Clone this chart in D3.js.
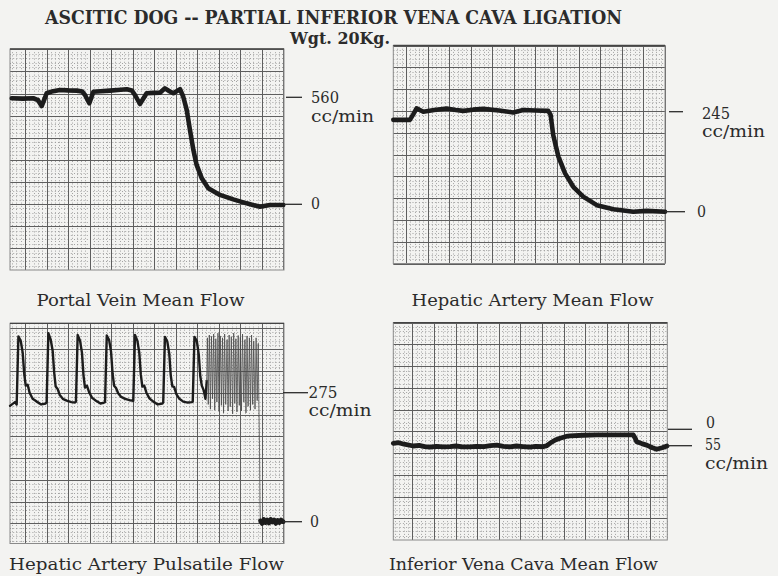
<!DOCTYPE html>
<html><head><meta charset="utf-8">
<script src="https://cdn.jsdelivr.net/npm/d3@7"></script>
<style>
html,body{margin:0;padding:0;background:#f3f3f1;}
svg{display:block;}
text{font-family:"DejaVu Serif",serif;fill:#2b2b2b;}
</style></head><body>
<svg id="c" width="778" height="576"></svg>
<script>
// ---------------- DATA ----------------
const titleText = "ASCITIC DOG -- PARTIAL INFERIOR VENA CAVA LIGATION";
const subtitleText = "Wgt. 20Kg.";
const panelLabels = ["Portal Vein Mean Flow", "Hepatic Artery Mean Flow",
                     "Hepatic Artery Pulsatile Flow", "Inferior Vena Cava Mean Flow"];
const unitLabel = "cc/min";
// calibration marks per panel: [value, label]
const refMarksPortal = [[560, "560"], [0, "0"]];
const refMarksHepatic = [[245, "245"], [0, "0"]];
const refMarksPulse = [[275, "275"], [0, "0"]];
const refMarksIVC = [[0, "0"], [55, "55"]];

// series: [time (chart divisions), flow (cc/min)]
const portalSeries = [[0.08,555],[0.6,553],[1.08,555],[1.30,545],[1.47,514],[1.58,545],[1.70,581],[2.0,592],[2.32,598],[2.7,596],
  [3.10,595],[3.35,590],[3.48,572],[3.68,529],[3.87,589],[4.2,592],[4.64,595],[5.0,598],[5.42,602],[5.65,596],
  [5.80,572],[6.03,525],[6.34,581],[6.65,583],[6.96,584],[7.19,607],[7.40,592],[7.58,581],[7.89,602],[8.04,563],
  [8.20,494],[8.35,389],[8.51,284],[8.66,206],[8.90,136],[9.20,84],[9.74,49],[10.36,26],[10.98,5],[11.60,-13],
  [12.06,-4],[12.68,-4]];

const hepaticSeries = [[0,225],[0.77,225],[0.93,239],[1.08,253],[1.39,245],[1.9,249],[2.47,253],[2.9,249],[3.24,247],[3.7,250],
  [4.17,252],[4.9,248],[5.56,243],[6.02,249],[6.6,248],[7.18,247],[7.29,237],[7.41,188],[7.65,135],[7.96,94],
  [8.34,61],[8.80,37],[9.43,16],[10.20,6],[11.12,0],[11.74,2],[12.59,0]];

const pulseWave = [[0.0,247],[0.23,255],
  [0.31,250],[0.39,395],[0.50,385],[0.59,360],[0.66,315],[0.73,290],[0.82,292],[0.91,275],[1.05,262],[1.24,256],[1.45,250],[1.66,252],
  [1.70,255],[1.78,402],[1.89,388],[1.98,364],[2.05,318],[2.12,288],[2.21,283],[2.31,270],[2.45,262],[2.63,258],[2.85,255],[3.02,254],
  [3.06,256],[3.14,398],[3.25,386],[3.34,360],[3.41,312],[3.48,286],[3.57,290],[3.67,276],[3.81,264],[3.99,258],[4.20,252],[4.37,254],
  [4.41,255],[4.49,397],[4.60,387],[4.69,362],[4.76,316],[4.83,290],[4.92,285],[5.02,274],[5.16,266],[5.34,262],[5.55,259],[5.68,258],
  [5.72,258],[5.80,398],[5.91,386],[6.00,360],[6.07,314],[6.14,288],[6.23,290],[6.33,275],[6.47,263],[6.65,256],[6.86,250],[7.07,252],
  [7.11,254],[7.19,394],[7.30,384],[7.39,358],[7.46,312],[7.53,289],[7.62,287],[7.72,272],[7.86,262],[8.04,256],[8.25,254],[8.44,255],
  [8.48,256],[8.56,394],[8.67,385],[8.76,356],[8.83,310],[8.90,290],[8.99,280],[9.07,262],[9.13,300]];

const pulseBurst = [[9.13,300],[9.16,392],[9.20,250],[9.25,398],[9.30,240],[9.35,395],[9.40,262],[9.45,400],[9.50,238],[9.55,390],
  [9.60,255],[9.65,402],[9.70,235],[9.76,396],[9.81,248],[9.86,392],[9.91,232],[9.96,400],[10.01,250],[10.07,388],
  [10.12,236],[10.17,398],[10.22,245],[10.27,394],[10.33,230],[10.38,402],[10.43,252],[10.48,390],[10.53,234],[10.59,397],
  [10.64,248],[10.69,393],[10.74,236],[10.79,400],[10.85,255],[10.90,388],[10.95,232],[11.00,396],[11.05,246],[11.11,392],
  [11.16,238],[11.21,398],[11.26,250],[11.31,385],[11.37,240],[11.42,392],[11.47,258],[11.52,380],[11.55,250],
  [11.58,150],[11.60,40],[11.62,0]];

const pulseZero = [[11.62,2],[11.70,-4],[11.78,5],[11.86,-2],[11.94,4],[12.02,-3],[12.10,5],[12.18,-1],[12.26,4],[12.34,-4],
  [12.42,3],[12.50,-2],[12.58,4],[12.68,0]];

const ivcSeries = [[0,47],[0.25,45],[0.5,50],[0.93,56],[1.2,54],[1.45,58],[1.70,60],[2.0,57],[2.3,59],[2.63,58],
  [2.9,56],[3.2,59],[3.55,59],[3.85,57],[4.2,58],[4.5,55],[4.79,53],[5.1,57],[5.40,59],[5.7,56],
  [6.0,58],[6.33,60],[6.6,57],[6.94,58],[7.1,55],[7.25,47],[7.5,36],[7.72,30],[8.0,24],[8.18,22],
  [8.8,20],[9.42,19],[10.2,19],[10.8,19],[11.11,19],[11.2,30],[11.27,42],[11.5,48],[11.73,53],[12.0,62],
  [12.19,67],[12.45,62],[12.67,56]];

// ---------------- LAYOUT ----------------
const svg = d3.select("#c");
const ink = "#1c1c1c";

// unitAt: index of the calibration mark that carries the "cc/min" line; ud: line gap
const panels = [
  { box:[10,49,284,270],   gx:25,    dx:21.53, gy:49.3, dy:22.1,  tdx:21.55,
    yr:[204.3,97.3],  dom:[0,560], marks:refMarksPortal,
    tick:[[286,302],[284,302]], txt:[[311,103],[311,208.5]], unitAt:0, ud:19, tl:[28,9],
    label:[36.5,305.5,208] },
  { box:[393.3,45.5,665,263.5], gx:406, dx:21.58, gy:45.5, dy:21.8, tdx:21.58,
    yr:[211.7,111.7], dom:[0,245], marks:refMarksHepatic,
    tick:[[669,683],[665,685]], txt:[[702,118.5],[697,217]], unitAt:0, ud:18.8, tl:[28,9],
    label:[411.5,305.5,242] },
  { box:[10,323.3,284,543.5], gx:25, dx:21.53, gy:327.6, dy:21.75, tdx:21.55,
    yr:[521.7,392.7], dom:[0,275], marks:refMarksPulse,
    tick:[[283,308],[283,302]], txt:[[308.5,397.5],[310,527]], unitAt:0, ud:18.8, tl:[29,9],
    label:[9,570,275] },
  { box:[393.3,322.7,667.3,540], gx:412.3, dx:21.6, gy:322.7, dy:21.73, tdx:21.6,
    yr:[429.3,445.7], dom:[0,55], marks:refMarksIVC,
    tick:[[668,692],[668,692]], txt:[[706,428],[705,450]], unitAt:1, ud:18.8, tl:[9,16],
    label:[389,570,269] }
];

// ---------------- TITLE ----------------
svg.append("text").attr("x",45).attr("y",23.5).attr("font-size",18).attr("font-weight","bold")
  .attr("textLength",577).attr("lengthAdjust","spacingAndGlyphs").text(titleText);
svg.append("text").attr("x",290).attr("y",43.5).attr("font-size",16).attr("font-weight","bold")
  .attr("textLength",100).attr("lengthAdjust","spacingAndGlyphs").text(subtitleText);

// ---------------- PANELS ----------------
panels.forEach((p, i) => {
  const [x0,y0,x1,y1] = p.box;
  const g = svg.append("g");
  // paper grid scales (in grid divisions)
  const px = d3.scaleLinear().domain([0,1]).range([p.gx, p.gx + p.dx]);
  const py = d3.scaleLinear().domain([0,1]).range([p.gy, p.gy + p.dy]);
  const kx = d3.range(Math.ceil(px.invert(x0)*5), Math.floor(px.invert(x1)*5)+1);
  const ky = d3.range(Math.ceil(py.invert(y0)*5), Math.floor(py.invert(y1)*5)+1);

  // minor dotted lines
  g.selectAll(".mx").data(kx.filter(k => k % 5 !== 0)).join("line")
    .attr("x1", k => Math.round(px(k/5))+0.5).attr("x2", k => Math.round(px(k/5))+0.5)
    .attr("y1", y0).attr("y2", y1)
    .attr("stroke","#9a9a9a").attr("stroke-width",0.9).attr("stroke-dasharray","1,2.2");
  g.selectAll(".my").data(ky.filter(k => k % 5 !== 0)).join("line")
    .attr("y1", k => Math.round(py(k/5))+0.5).attr("y2", k => Math.round(py(k/5))+0.5)
    .attr("x1", x0).attr("x2", x1)
    .attr("stroke","#9a9a9a").attr("stroke-width",0.9).attr("stroke-dasharray","1,2.2");
  // major lines
  g.selectAll(".Mx").data(kx.filter(k => k % 5 === 0)).join("line")
    .attr("x1", k => Math.round(px(k/5))+0.5).attr("x2", k => Math.round(px(k/5))+0.5)
    .attr("y1", y0).attr("y2", y1)
    .attr("stroke","#5e5e5e").attr("stroke-width",1);
  g.selectAll(".My").data(ky.filter(k => k % 5 === 0)).join("line")
    .attr("y1", k => Math.round(py(k/5))+0.5).attr("y2", k => Math.round(py(k/5))+0.5)
    .attr("x1", x0).attr("x2", x1)
    .attr("stroke","#5e5e5e").attr("stroke-width",1);
  // border
  g.append("rect").attr("x",x0).attr("y",y0).attr("width",x1-x0).attr("height",y1-y0)
    .attr("fill","none").attr("stroke","#8a8a8a").attr("stroke-width",1);
  g.append("line").attr("x1",x0).attr("x2",x1).attr("y1",y0).attr("y2",y0)
    .attr("stroke","#444").attr("stroke-width",1.3);

  // data scales
  const xs = d3.scaleLinear().domain([0,(x1-x0)/p.tdx]).range([x0,x1]);
  const ys = d3.scaleLinear().domain(p.dom).range(p.yr);
  const line = d3.line().x(d => xs(d[0])).y(d => ys(d[1]));

  const draw = (data, w, col) => g.append("path").datum(data).attr("d", line)
      .attr("fill","none").attr("stroke",col || ink).attr("stroke-width",w)
      .attr("stroke-linejoin","round").attr("stroke-linecap","round");
  if (i === 0) draw(portalSeries, 4.6);
  if (i === 1) draw(hepaticSeries, 4.6);
  if (i === 2) { draw(pulseWave, 2.4); draw(pulseBurst, 0.8, "#4a4a4a"); draw(pulseZero, 4.5); }
  if (i === 3) draw(ivcSeries, 4.8);

  // calibration marks (value label; the unit line is a second tspan of the same text)
  p.marks.forEach((m, j) => {
    const yy = ys(m[0]);
    g.append("line").attr("x1",p.tick[j][0]).attr("x2",p.tick[j][1]).attr("y1",yy).attr("y2",yy)
      .attr("stroke","#2b2b2b").attr("stroke-width",1.3);
    const t = g.append("text").attr("x",p.txt[j][0]).attr("y",p.txt[j][1]).attr("font-size",16);
    t.append("tspan").attr("textLength",p.tl[j]).attr("lengthAdjust","spacingAndGlyphs").text(m[1]);
    if (j === p.unitAt) {
      t.append("tspan").attr("x",p.txt[j][0]).attr("dy",p.ud)
        .attr("textLength",63).attr("lengthAdjust","spacingAndGlyphs").text(unitLabel);
    }
  });

  // panel label
  svg.append("text").attr("x",p.label[0]).attr("y",p.label[1]).attr("font-size",16.5)
    .attr("textLength",p.label[2]).attr("lengthAdjust","spacingAndGlyphs").text(panelLabels[i]);
});
</script>
</body></html>
